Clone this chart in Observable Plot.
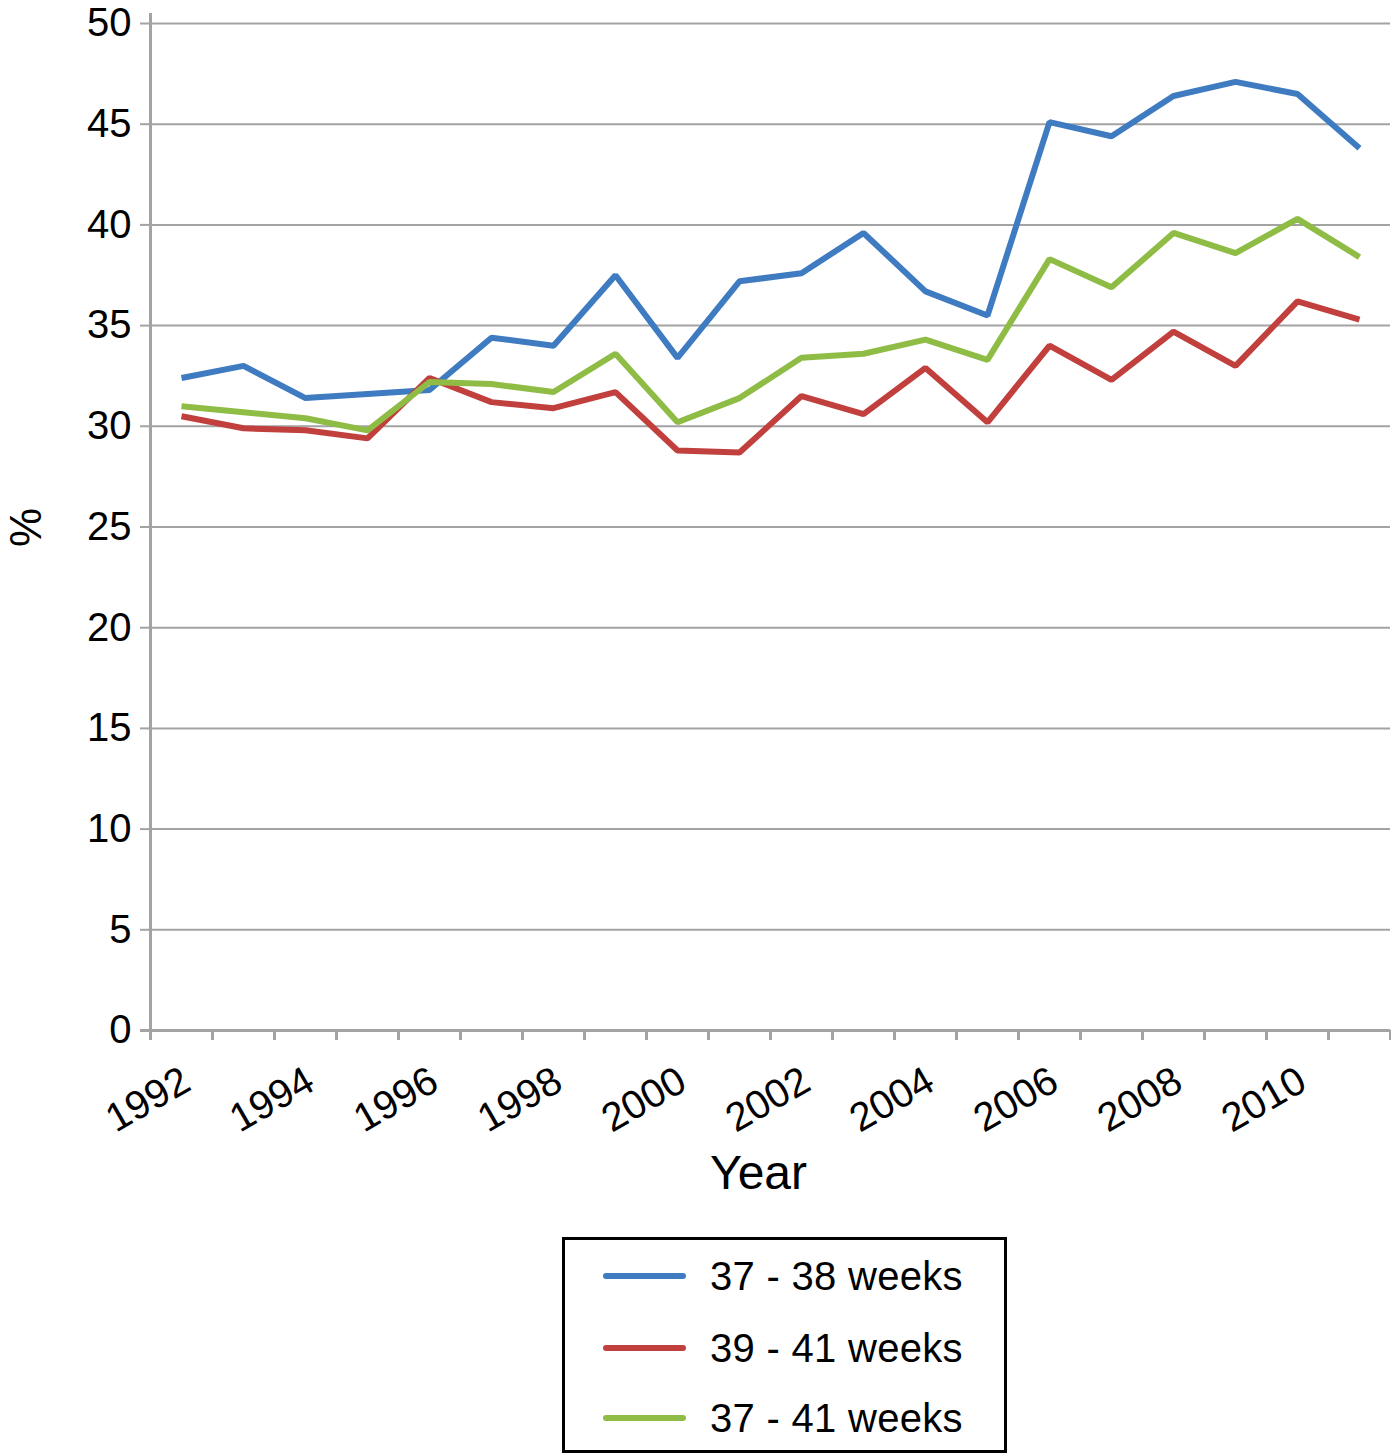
<!DOCTYPE html>
<html>
<head>
<meta charset="utf-8">
<script src="https://cdn.jsdelivr.net/npm/d3@7"></script>
<script src="https://cdn.jsdelivr.net/npm/@observablehq/plot@0.6"></script>
<style>
  body { margin: 0; background: #fff; font-family: "Liberation Sans", Arial, sans-serif; }
  #wrap { position: relative; width: 1391px; height: 1456px; }
  #legend {
    position: absolute; left: 562px; top: 1237px; width: 439px; height: 210px;
    border: 3px solid #000; background: #fff;
  }
  .item { position: absolute; left: 38px; display: flex; align-items: center; height: 50px; }
  .sw { width: 83px; height: 6px; border-radius: 3px; margin-right: 24px; }
  .lab { font-size: 40px; color: #000; white-space: nowrap; letter-spacing: 0.3px; }
</style>
</head>
<body>
<div id="wrap"></div>
<script>
const years = [1992,1993,1994,1995,1996,1997,1998,1999,2000,2001,2002,2003,2004,2005,2006,2007,2008,2009,2010,2011];
const seriesNames = ["37 - 38 weeks", "39 - 41 weeks", "37 - 41 weeks"];
const seriesColors = ["#3f7bc0", "#c1403d", "#8fbc45"];
const w37_38 = [32.4,33.0,31.4,31.6,31.8,34.4,34.0,37.5,33.4,37.2,37.6,39.6,36.7,35.5,45.1,44.4,46.4,47.1,46.5,43.8];
const w39_41 = [30.5,29.9,29.8,29.4,32.4,31.2,30.9,31.7,28.8,28.7,31.5,30.6,32.9,30.2,34.0,32.3,34.7,33.0,36.2,35.3];
const w37_41 = [31.0,30.7,30.4,29.8,32.2,32.1,31.7,33.6,30.2,31.4,33.4,33.6,34.3,33.3,38.3,36.9,39.6,38.6,40.3,38.4];
const yTicks = [0,5,10,15,20,25,30,35,40,45,50];
const xLabelYears = [1992,1994,1996,1998,2000,2002,2004,2006,2008,2010];
const xTitle = "Year";
const yTitle = "%";

const seriesValues = [w37_38, w39_41, w37_41];
const data = [];
seriesNames.forEach((s, i) => years.forEach((yr, j) => data.push({series: s, year: yr, value: seriesValues[i][j]})));
const boundaries = years.map(y => y - 0.5).concat([years[years.length - 1] + 0.5]);

const gray = "#a3a3a3";
const font = "Liberation Sans, Arial, sans-serif";

const chart = Plot.plot({
  width: 1391,
  height: 1220,
  marginLeft: 150,
  marginRight: 1,
  marginTop: 23,
  marginBottom: 190,
  style: {fontFamily: font, background: "#fff", color: "#000"},
  x: {type: "linear", domain: [boundaries[0], boundaries[boundaries.length - 1]]},
  y: {domain: [0, 50]},
  color: {domain: seriesNames, range: seriesColors},
  marks: [
    Plot.gridY(yTicks, {stroke: gray, strokeOpacity: 1, strokeWidth: 2}),
    Plot.axisY(yTicks, {tickSize: 10, tickPadding: 9, stroke: gray, strokeWidth: 2, fontSize: 40, label: null, tickFormat: d => String(d)}),
    Plot.ruleX([boundaries[0]], {stroke: gray, strokeWidth: 3, insetTop: -10}),
    Plot.ruleY([0], {stroke: gray, strokeWidth: 3, insetLeft: -10}),
    Plot.axisX(boundaries, {tickSize: 10, stroke: gray, strokeWidth: 3, tickFormat: () => "", label: null}),
    Plot.axisX(xLabelYears, {tickSize: 0, tickRotate: -30, tickPadding: 47, dx: 5, fontSize: 40, label: null, tickFormat: d => String(d)}),
    Plot.line(data, {x: "year", y: "value", z: "series", stroke: "series", strokeWidth: 6, strokeLinejoin: "miter", strokeLinecap: "butt"}),
    Plot.text([yTitle], {frameAnchor: "left", dx: -124, dy: 20, rotate: -90, fontSize: 44, fill: "#000"}),
    Plot.text([xTitle], {frameAnchor: "bottom", dy: 158, dx: -12, fontSize: 48, fill: "#000"})
  ]
});

const wrap = document.getElementById("wrap");
wrap.appendChild(chart);

const legend = document.createElement("div");
legend.id = "legend";
const rowTops = [11, 83, 153];
seriesNames.forEach((s, i) => {
  const item = document.createElement("div");
  item.className = "item";
  item.style.top = rowTops[i] + "px";
  const sw = document.createElement("div");
  sw.className = "sw";
  sw.style.background = seriesColors[i];
  const lab = document.createElement("span");
  lab.className = "lab";
  lab.textContent = s;
  item.appendChild(sw);
  item.appendChild(lab);
  legend.appendChild(item);
});
wrap.appendChild(legend);
</script>
</body>
</html>
